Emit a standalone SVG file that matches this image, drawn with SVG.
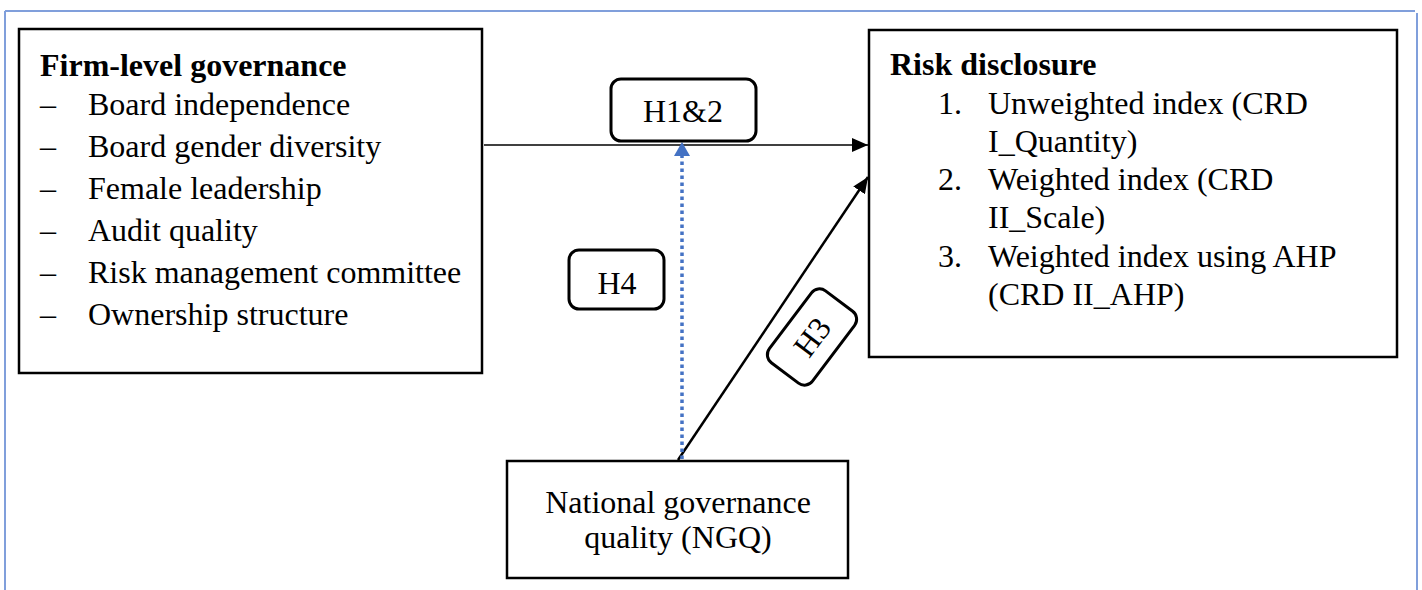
<svg xmlns="http://www.w3.org/2000/svg" width="1422" height="590" viewBox="0 0 1422 590">
  <style>
    .frame { stroke: #809FDB; stroke-width: 2; fill: none; }
    .box { fill: #ffffff; stroke: #000000; stroke-width: 2.5; }
    .tag { fill: #ffffff; stroke: #000000; stroke-width: 3; }
    text { font-family: "Liberation Serif", "Times New Roman", serif; font-size: 32px; fill: #000000; }
    .bold { font-weight: bold; }
    .mid { text-anchor: middle; }
    .link { stroke: #000000; fill: none; }
    .dotted { stroke: #4472C4; stroke-width: 3.5; stroke-dasharray: 3.5 3.5; fill: none; }
  </style>
  <defs>
    <marker id="arrow-black" viewBox="0 0 16 14" refX="16" refY="7" markerWidth="16" markerHeight="14" markerUnits="userSpaceOnUse" orient="auto">
      <path d="M0,0 L16,7 L0,14 z" fill="#000000"/>
    </marker>
    <marker id="arrow-blue" viewBox="0 0 16 16" refX="14" refY="8" markerWidth="16" markerHeight="16" markerUnits="userSpaceOnUse" orient="auto">
      <path d="M0,0 L14,8 L0,16 z" fill="#4472C4"/>
    </marker>
  </defs>

  <rect width="1422" height="590" fill="#ffffff"/>

  <!-- page frame -->
  <g id="frame">
    <line class="frame" x1="5" y1="11" x2="1415" y2="11"/>
    <line class="frame" x1="5" y1="11" x2="5" y2="590"/>
    <line class="frame" x1="1417" y1="13" x2="1417" y2="590"/>
  </g>

  <!-- connectors -->
  <g id="connectors">
    <line class="link" x1="484" y1="145" x2="868" y2="145" stroke-width="1.5" marker-end="url(#arrow-black)"/>
    <line class="link" x1="678" y1="460" x2="868" y2="177" stroke-width="2.5" marker-end="url(#arrow-black)"/>
    <line class="dotted" x1="682" y1="459" x2="682" y2="150"/>
    <line x1="682" y1="160" x2="682" y2="142" stroke="#4472C4" stroke-width="0.1" marker-end="url(#arrow-blue)"/>
  </g>

  <!-- firm-level governance -->
  <g id="node-firm">
    <rect class="box" x="19" y="29" width="463" height="344"/>
    <text class="bold" x="40" y="76">Firm-level governance</text>
    <text x="40" y="115">–</text><text x="88" y="115">Board independence</text>
    <text x="40" y="157">–</text><text x="88" y="157">Board gender diversity</text>
    <text x="40" y="199">–</text><text x="88" y="199">Female leadership</text>
    <text x="40" y="241">–</text><text x="88" y="241">Audit quality</text>
    <text x="40" y="283">–</text><text x="88" y="283">Risk management committee</text>
    <text x="40" y="325">–</text><text x="88" y="325">Ownership structure</text>
  </g>

  <!-- risk disclosure -->
  <g id="node-risk">
    <rect class="box" x="869" y="30" width="528" height="327"/>
    <text class="bold" x="890" y="75">Risk disclosure</text>
    <text x="938" y="114">1.</text><text x="988" y="114">Unweighted index (CRD</text>
    <text x="988" y="152">I_Quantity)</text>
    <text x="938" y="190">2.</text><text x="988" y="190">Weighted index (CRD</text>
    <text x="988" y="228">II_Scale)</text>
    <text x="938" y="267">3.</text><text x="988" y="267">Weighted index using AHP</text>
    <text x="988" y="305">(CRD II_AHP)</text>
  </g>

  <!-- national governance quality -->
  <g id="node-ngq">
    <rect class="box" x="507" y="461" width="341" height="117"/>
    <text class="mid" x="678" y="513">National governance</text>
    <text class="mid" x="678" y="548">quality (NGQ)</text>
  </g>

  <!-- hypothesis labels -->
  <g id="label-h12">
    <rect class="tag" x="611" y="79" width="145" height="62" rx="10"/>
    <text class="mid" x="683" y="122">H1&amp;2</text>
  </g>
  <g id="label-h4">
    <rect class="tag" x="569" y="250" width="95" height="59" rx="10"/>
    <text class="mid" x="617" y="294">H4</text>
  </g>
  <g id="label-h3" transform="translate(812,337) rotate(-53)">
    <rect class="tag" x="-45" y="-27" width="90" height="54" rx="10"/>
    <text class="mid" x="0" y="11">H3</text>
  </g>
</svg>
